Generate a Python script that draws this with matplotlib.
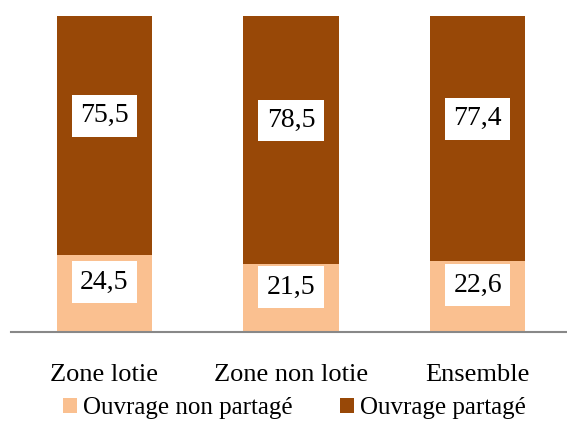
import matplotlib
matplotlib.use("Agg")
from matplotlib import pyplot as plt
from matplotlib.patches import Patch
import numpy as np

categories = ["Zone lotie", "Zone non lotie", "Ensemble"]
non_partage = [24.5, 21.5, 22.6]
partage = [75.5, 78.5, 77.4]
series_names = ["Ouvrage non partagé", "Ouvrage partagé"]
colors = ["#FAC090", "#984807"]

plt.rcParams['font.family'] = ['Liberation Serif', 'DejaVu Serif']

fig = plt.figure(figsize=(5.67, 4.23), dpi=100)
ax = fig.add_axes([11/567, 91/423, 560/567, 316/423])

x = np.arange(len(categories))
w = 0.51
ax.bar(x, non_partage, w, color=colors[0], zorder=2)
ax.bar(x, partage, w, bottom=non_partage, color=colors[1], zorder=2)

box = dict(boxstyle="square,pad=0.3", fc="white", ec="none")
for i in range(len(categories)):
    yb = non_partage[i] / 2
    yt = non_partage[i] + partage[i] / 2
    ax.annotate(f"{non_partage[i]:.1f}".replace(".", ","), (x[i], yb),
                xytext=(0, 8), textcoords="offset points",
                ha="center", va="center", fontsize=20, bbox=box, zorder=3)
    ax.annotate(f"{partage[i]:.1f}".replace(".", ","), (x[i], yt),
                xytext=(0, 14), textcoords="offset points",
                ha="center", va="center", fontsize=20, bbox=box, zorder=3)

ax.set_xlim(-0.5, 2.5)
ax.set_ylim(0, 100)
ax.set_xticks(x)
ax.set_xticklabels(categories, fontsize=19)
ax.tick_params(axis="x", length=0, pad=23)
ax.set_yticks([])
for s in ["top", "right", "left"]:
    ax.spines[s].set_visible(False)
ax.spines["bottom"].set_color("#888888")
ax.spines["bottom"].set_linewidth(1.5)

handles = [Patch(facecolor=c, edgecolor="none") for c in colors]
fig.legend(handles, series_names, loc="center", bbox_to_anchor=(0.52, 0.035),
           ncol=2, frameon=False, fontsize=18, handlelength=0.55, handleheight=0.55,
           handletextpad=0.25, columnspacing=1.9, borderaxespad=0)

fig.savefig("out.png", dpi=100)
